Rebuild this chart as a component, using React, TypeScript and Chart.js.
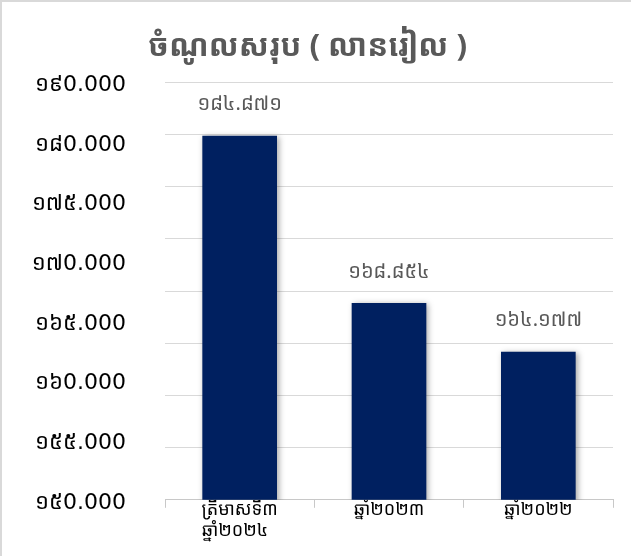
import React, { useEffect, useRef } from "react";
import { Chart, registerables } from "chart.js";

Chart.register(...registerables);

const titleText = "ចំណូលសរុប ( លានរៀល )";
const categories: (string | string[])[] = [["ត្រីមាសទី៣", "ឆ្នាំ២០២៤  "], "ឆ្នាំ២០២៣", "ឆ្នាំ២០២២"];
const revenue = [184871, 168854, 164177];
const yTickValues = [150000, 155000, 160000, 165000, 170000, 175000, 180000, 190000];

const khmerDigits = ["០", "១", "២", "៣", "៤", "៥", "៦", "៧", "៨", "៩"];
const toKhmer = (s: string) => s.replace(/[0-9]/g, (d) => khmerDigits[+d]);
// axis labels keep Latin zeros as in the original picture
const toKhmerAxis = (s: string) => s.replace(/[1-9]/g, (d) => khmerDigits[+d]);
const fmt = (v: number) => {
  const s = String(Math.round(v));
  return s.replace(/\B(?=(\d{3})+(?!\d))/g, ".");
};

const FONT = "'Khmer OS', 'Noto Sans Khmer', 'Khmer OS System', 'DejaVu Sans', sans-serif";
const AXIS_FONT = "'DejaVu Sans', 'Khmer OS', 'Noto Sans Khmer', sans-serif";

export default function App() {
  const ref = useRef<HTMLCanvasElement | null>(null);
  useEffect(() => {
    document.body.style.margin = "0";
    const shadowPlugin = {
      id: "barShadow",
      beforeDatasetsDraw(chart: any) {
        const ctx = chart.ctx;
        ctx.save();
        ctx.shadowColor = "rgba(0,0,0,0.35)";
        ctx.shadowBlur = 6;
        ctx.shadowOffsetX = 2;
        ctx.shadowOffsetY = 1;
      },
      afterDatasetsDraw(chart: any) {
        chart.ctx.restore();
      },
    };
    const labelPlugin = {
      id: "valueLabels",
      afterDraw(chart: any) {
        const ctx = chart.ctx;
        const meta = chart.getDatasetMeta(0);
        ctx.save();
        ctx.fillStyle = "#595959";
        ctx.font = `20px ${FONT}`;
        ctx.textAlign = "center";
        ctx.textBaseline = "middle";
        meta.data.forEach((bar: any, i: number) => {
          ctx.fillText(toKhmer(fmt(revenue[i])), bar.x, bar.y - 31);
        });
        ctx.restore();
      },
    };
    const chart = new Chart(ref.current as HTMLCanvasElement, {
      type: "bar",
      data: {
        labels: categories,
        datasets: [
          {
            data: revenue,
            backgroundColor: "#002060",
            borderWidth: 0,
            barPercentage: 0.5,
            categoryPercentage: 1,
            yAxisID: "y",
          },
        ],
      },
      options: {
        animation: false,
        responsive: true,
        maintainAspectRatio: false,
        layout: { padding: { left: 0, right: 18, top: 0, bottom: 5 } },
        plugins: {
          legend: { display: false },
          tooltip: { enabled: false },
          title: {
            display: true,
            text: titleText,
            color: "#595959",
            font: { family: FONT, size: 31, weight: "bold" },
            padding: { top: 27, bottom: 16 },
          },
        },
        scales: {
          x: {
            grid: {
              display: true,
              offset: true,
              drawOnChartArea: false,
              tickLength: 8,
              color: "#c8c8c8",
            },
            border: { display: true, color: "#c8c8c8" },
            ticks: {
              color: "#000000",
              font: { family: FONT, size: 18 },
              padding: -9,
              maxRotation: 0,
            },
            afterFit: (scale: any) => {
              scale.height += 18;
            },
          },
          y: {
            position: "left",
            min: 150000,
            max: 190000,
            ticks: { display: false, stepSize: 5000 },
            grid: { color: "#d9d9d9", drawTicks: false },
            border: { display: false },
          },
          yl: {
            position: "left",
            min: 0,
            max: 7,
            ticks: {
              stepSize: 1,
              color: "#000000",
              padding: 31,
              labelOffset: 3,
              font: { family: AXIS_FONT, size: 22 },
              callback: (v: any) => {
                const val = yTickValues[Math.round(Number(v))];
                return val === undefined ? "" : toKhmerAxis(fmt(val));
              },
            },
            grid: { display: false },
            border: { display: false },
            afterFit: (scale: any) => {
              scale.width = 163;
            },
          },
        },
      },
      plugins: [shadowPlugin, labelPlugin],
    } as any);
    return () => chart.destroy();
  }, []);
  return (
    <div
      style={{
        position: "fixed",
        left: 0,
        top: 0,
        width: 631,
        height: 556,
        boxSizing: "border-box",
        borderLeft: "2px solid #d9d9d9",
        borderTop: "2px solid #d9d9d9",
        background: "#ffffff",
      }}
    >
      <canvas ref={ref} />
    </div>
  );
}
